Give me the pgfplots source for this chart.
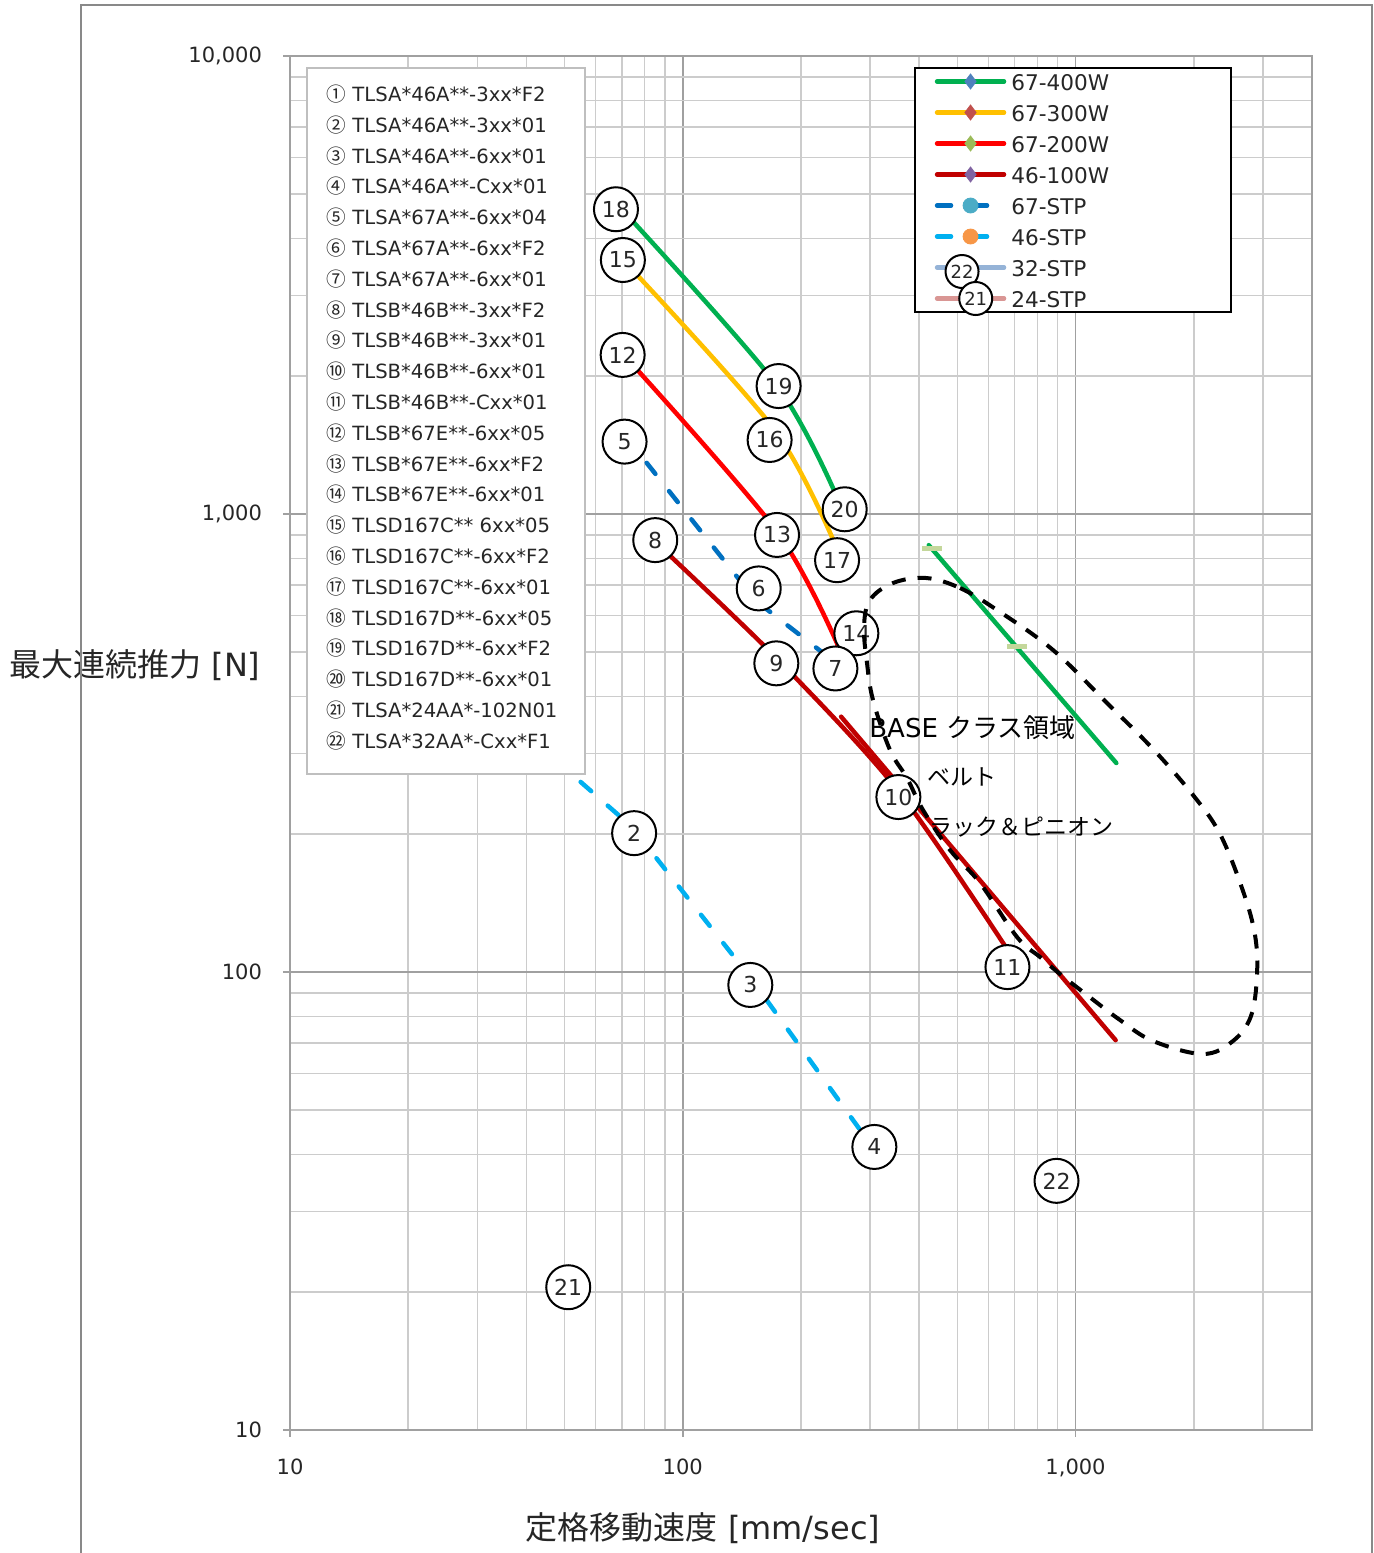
\documentclass[border=0pt]{standalone}
\usepackage{fontspec}
\usepackage{pgfplots}
\pgfplotsset{compat=1.18}
\setmainfont{DejaVu Sans}
\newfontfamily\jp{Noto Sans CJK JP}
\definecolor{c400}{HTML}{00B050}
\definecolor{c300}{HTML}{FFC000}
\definecolor{c200}{HTML}{FF0000}
\definecolor{c100}{HTML}{C00000}
\definecolor{c67s}{HTML}{0070C0}
\definecolor{c46s}{HTML}{00B0F0}
\definecolor{c32s}{HTML}{95B3D7}
\definecolor{c24s}{HTML}{D99694}
\definecolor{m1}{HTML}{4F81BD}
\definecolor{m2}{HTML}{C0504D}
\definecolor{m3}{HTML}{9BBB59}
\definecolor{m4}{HTML}{8064A2}
\definecolor{m5}{HTML}{4BACC6}
\definecolor{m6}{HTML}{F79646}
\definecolor{mk}{HTML}{C4D79B}
\definecolor{gmaj}{HTML}{A0A0A0}
\definecolor{gmin}{HTML}{CCCCCC}
\definecolor{framec}{HTML}{898989}
\definecolor{boxc}{HTML}{BFBFBF}
\definecolor{txt}{HTML}{262626}
\begin{document}
\begin{tikzpicture}
\useasboundingbox (0pt,0pt) rectangle (686.5pt,-776.5pt);
\node[anchor=west, inner sep=0pt, font=\fontsize{16}{16}\selectfont, text=txt] at (4.5pt,-332.5pt) {{\jp 最大連続推力} [N]};
\node[inner sep=0pt, font=\fontsize{16}{16}\selectfont, text=txt] at (351.5pt,-764pt) {{\jp 定格移動速度} [mm/sec]};
\begin{axis}[
  at={(145pt,-28pt)}, anchor=north west,
  width=511pt, height=687pt, scale only axis,
  xmode=log, ymode=log,
  xmin=10, xmax=4000, ymin=10, ymax=10000,
  xtick={10,100,1000}, xticklabels={10,100,{1,000}},
  ytick={10,100,1000,10000}, yticklabels={10,100,{1,000},{10,000}},
  minor xtick={20,30,40,50,60,70,80,90,200,300,400,500,600,700,800,900,2000,3000},
  minor ytick={20,30,40,50,60,70,80,90,200,300,400,500,600,700,800,900,2000,3000,4000,5000,6000,7000,8000,9000},
  grid=both,
  major grid style={draw=gmaj, line width=0.75pt},
  minor grid style={draw=gmin, line width=0.75pt},
  axis line style={draw=gmaj, line width=0.75pt},
  tick align=outside, major tick length=3.5pt, minor tick length=0pt,
  tick pos=left,
  tick style={draw=gmaj, line width=0.75pt},
  ticklabel style={font=\fontsize{10.5}{12}\selectfont, text=txt},
  xticklabel style={yshift=-7.5pt},
  yticklabel style={xshift=-7pt},
  legend image code/.code={\draw[mark repeat=2,mark phase=2,#1] plot coordinates {(0pt,0pt) (16.75pt,0pt) (33.5pt,0pt)};},
  legend style={at={(0.6106,0.9918)}, anchor=north west, draw=black, line width=0.75pt, fill=white,
    font=\fontsize{10.8}{13}\selectfont, text=txt, inner xsep=10pt, inner ysep=2.5pt,
    row sep=7pt, column sep=2.5pt,
    nodes={inner sep=0pt, text height=8.5pt, text depth=0pt}},
  legend cell align=left,
]
% legend entries
\addlegendimage{c400, line width=2.25pt, line cap=round, mark=diamond*, mark size=3.75pt, mark options={solid, line width=0.4pt, draw=m1, fill=m1}}
\addlegendentry{67-400W\hspace*{51pt}}
\addlegendimage{c300, line width=2.25pt, line cap=round, mark=diamond*, mark size=3.75pt, mark options={solid, line width=0.4pt, draw=m2, fill=m2}}
\addlegendentry{67-300W}
\addlegendimage{c200, line width=2.25pt, line cap=round, mark=diamond*, mark size=3.75pt, mark options={solid, line width=0.4pt, draw=m3, fill=m3}}
\addlegendentry{67-200W}
\addlegendimage{c100, line width=2.25pt, line cap=round, mark=diamond*, mark size=3.75pt, mark options={solid, line width=0.4pt, draw=m4, fill=m4}}
\addlegendentry{46-100W}
\addlegendimage{c67s, line width=2.25pt, line cap=round, dash pattern=on 7pt off 11pt, mark=*, mark size=3.75pt, mark options={solid, line width=0.4pt, draw=m5, fill=m5}}
\addlegendentry{67-STP}
\addlegendimage{c46s, line width=2.25pt, line cap=round, dash pattern=on 7pt off 11pt, mark=*, mark size=3.75pt, mark options={solid, line width=0.4pt, draw=m6, fill=m6}}
\addlegendentry{46-STP}
\addlegendimage{legend image code/.code={
  \draw[c32s, line width=2.25pt, line cap=round] (0pt,0pt) -- (33.5pt,0pt);
  \draw[overlay, black, line width=1pt, fill=white] (12.5pt,-2pt) circle (8.25pt);
  \node[overlay, anchor=center, inner sep=0pt, text height=, text depth=, font=\fontsize{9}{9}\selectfont, text=txt] at (12.5pt,-2pt) {22};}}
\addlegendentry{32-STP}
\addlegendimage{legend image code/.code={
  \draw[c24s, line width=2.25pt, line cap=round] (0pt,0pt) -- (33.5pt,0pt);
  \draw[overlay, black, line width=1pt, fill=white] (19.35pt,0pt) circle (8.25pt);
  \node[overlay, anchor=center, inner sep=0pt, text height=, text depth=, font=\fontsize{9}{9}\selectfont, text=txt] at (19.35pt,0pt) {21};}}
\addlegendentry{24-STP}

% data
\addplot[forget plot, only marks, mark=-, mark size=5pt, mark options={draw=mk, line width=2.5pt}] coordinates {(431,842) (709,513)};
\addplot[forget plot, c400, line width=2.25pt, line cap=round] coordinates {(423,855) (1270,286)};
\addplot[forget plot, c100, line width=2.25pt, line cap=round] coordinates {(253,361) (1265,71)};

\addplot[forget plot, c46s, line width=2.25pt, line cap=round, dash pattern=on 7pt off 11pt] coordinates {(40,330) (74,208) (149,97) (295,43)};
\addplot[forget plot, c67s, line width=2.25pt, line cap=round, dash pattern=on 7pt off 11pt] coordinates {(71,1490) (154,645) (240,480)};
\addplot[forget plot, c100, line width=2.25pt, line cap=round, smooth] coordinates {(85,870) (173,485) (352,250) (675,111)};
\addplot[forget plot, c200, line width=2.25pt, line cap=round, smooth] coordinates {(70.3,2240) (173,920) (250,510)};
\addplot[forget plot, c300, line width=2.25pt, line cap=round, smooth] coordinates {(70.4,3590) (171,1530) (247,840)};
\addplot[forget plot, c400, line width=2.25pt, line cap=round, smooth] coordinates {(68,4750) (172,1930) (248,1080)};

% circled labels
\pgfplotsset{circlab/.style={forget plot, only marks, mark=none, point meta=explicit symbolic,
  nodes near coords, nodes near coords align={center},
  every node near coord/.append style={circle, draw=black, line width=1pt, fill=white, inner sep=0pt,
    minimum size=22pt, font=\fontsize{11}{11}\selectfont, text=txt, anchor=center}}}
\addplot[circlab] table[meta=lab] {
x y lab
75.2 201 2
148.6 93.7 3
307.5 41.5 4
71.1 1439 5
156.1 688 6
85.1 877 8
173.1 472 9
354 241 10
671 102.5 11
70.3 2225 12
173.8 900 13
276.7 549 14
244.7 460 7
70.4 3586 15
166.4 1451 16
247.1 793 17
67.6 4628 18
175.4 1903 19
258.4 1024 20
};
\addplot[circlab] table[meta=lab] {
x y lab
894.5 35.0 22
};
\addplot[circlab] table[meta=lab] {
x y lab
51.1 20.5 21
};
\end{axis}
% BASE region
\begin{scope}[x=0.5pt,y=-0.5pt]
\draw[black, line width=2pt, dash pattern=on 7pt off 6pt] plot[smooth cycle, tension=0.6] coordinates {
(926,578) (960,588) (997,610) (1053,650) (1107,703) (1153,749) (1193,795) (1220,834) (1243,891) (1255,935) (1257,975) (1251,1016) (1233,1041) (1203,1054) (1153,1041) (1120,1020) (1087,995) (1060,974) (1040,957) (1017,937) (980,883) (950,850) (923,810) (907,778) (890,750) (873,700) (867,663) (864,627) (870,600) (893,583)};
\end{scope}
\node[anchor=west, inner sep=0pt, font=\fontsize{13}{13}\selectfont, text=black] at (434.5pt,-364pt) {BASE {\jp クラス領域}};
\node[anchor=west, inner sep=0pt, font=\jp\fontsize{11.5}{11.5}\selectfont, text=black] at (463.5pt,-388.25pt) {ベルト};
\node[anchor=west, inner sep=0pt, font=\jp\fontsize{11.5}{11.5}\selectfont, text=black] at (464.5pt,-413.75pt) {ラック＆ピニオン};
% left list box
\draw[boxc, line width=1pt, fill=white] (153.5pt,-34pt) rectangle (292.5pt,-387pt);
\foreach \n/\t [count=\i from 0] in {①/TLSA*46A**-3xx*F2, ②/TLSA*46A**-3xx*01, ③/TLSA*46A**-6xx*01, ④/TLSA*46A**-Cxx*01, ⑤/TLSA*67A**-6xx*04, ⑥/TLSA*67A**-6xx*F2, ⑦/TLSA*67A**-6xx*01, ⑧/TLSB*46B**-3xx*F2, ⑨/TLSB*46B**-3xx*01, ⑩/TLSB*46B**-6xx*01, ⑪/TLSB*46B**-Cxx*01, ⑫/TLSB*67E**-6xx*05, ⑬/TLSB*67E**-6xx*F2, ⑭/TLSB*67E**-6xx*01, ⑮/TLSD167C** 6xx*05, ⑯/TLSD167C**-6xx*F2, ⑰/TLSD167C**-6xx*01, ⑱/TLSD167D**-6xx*05, ⑲/TLSD167D**-6xx*F2, ⑳/TLSD167D**-6xx*01, ㉑/TLSA*24AA*-102N01, ㉒/TLSA*32AA*-Cxx*F1} {
  \node[anchor=base west, inner sep=0pt, font=\fontsize{9.8}{10}\selectfont, text=txt] at (176pt, {-50.7pt-15.4pt*\i}) {\t};
  \node[anchor=base, inner sep=0pt, font=\jp\fontsize{9.8}{10}\selectfont, text=txt] at (168.25pt, {-50.7pt-15.4pt*\i}) {\n};
}
% chart frame
\draw[framec, line width=1pt] (40.5pt,-800pt) -- (40.5pt,-2.5pt) -- (686pt,-2.5pt) -- (686pt,-800pt);
\end{tikzpicture}
\end{document}
